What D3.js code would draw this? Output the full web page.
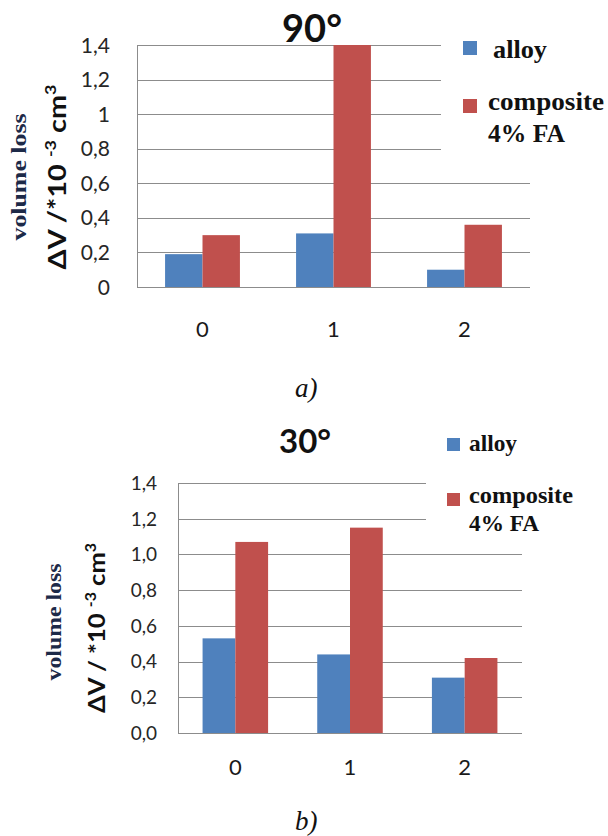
<!DOCTYPE html>
<html><head><meta charset="utf-8">
<script src="https://cdn.jsdelivr.net/npm/d3@7"></script>
<style>body{margin:0;background:#fff}svg{display:block}</style>
</head><body>
<svg id="c" width="608" height="836"></svg>
<script>
const categories = ["0", "1", "2"];
const seriesNames = ["alloy", "composite", "4% FA"];
const alloy90 = [0.19, 0.31, 0.10];
const composite90 = [0.30, 1.40, 0.36];
const alloy30 = [0.53, 0.44, 0.31];
const composite30 = [1.07, 1.15, 0.42];
const yTickValues = [0, 0.2, 0.4, 0.6, 0.8, 1.0, 1.2, 1.4];
const yTickLabels90 = ["0", "0,2", "0,4", "0,6", "0,8", "1", "1,2", "1,4"];
const yTickLabels30 = ["0,0", "0,2", "0,4", "0,6", "0,8", "1,0", "1,2", "1,4"];
const titles = ["90°", "30°"];
const captions = ["a)", "b)"];

const colors = ["#4F81BD", "#C0504D"];
const svg = d3.select("#c");

const charts = [
  {alloy: alloy90, comp: composite90, labels: yTickLabels90, title: titles[0], caption: captions[0],
   left: 137, right: 530, top: 45, bottom: 287, tickFs: 21, tickX: 110, xFs: 22, xLabelY: 337,
   titleX: 312, titleY: 42, titleFs: 38,
   legX: 463, legSq: 14, legY1: 41, legY2: 99, legTextX: 493, legTextX2: 488, legFs: 25,
   legW: [54, 116, 77], legBase: [58, 110, 142], legBg: [441, 30, 167, 125],
   vlX: 20, vlLen: 127, vlFs: 22, vlY: 177, dvX: 57, dvLen: 185, dvFs: 25, dvY: 177,
   capX: 295, capY: 397},
  {alloy: alloy30, comp: composite30, labels: yTickLabels30, title: titles[1], caption: captions[1],
   left: 178, right: 522, top: 483, bottom: 733, tickFs: 19, tickX: 157, xFs: 22, xLabelY: 775,
   titleX: 305, titleY: 453, titleFs: 33,
   legX: 447, legSq: 13, legY1: 438, legY2: 493, legTextX: 469, legTextX2: 469, legFs: 23,
   legW: [48, 104, 70], legBase: [451, 503, 531], legBg: [426, 425, 182, 110],
   vlX: 55, vlLen: 117, vlFs: 21, vlY: 622, dvX: 96, dvLen: 170, dvFs: 23, dvY: 628,
   capX: 295, capY: 830}
];

charts.forEach(ch => {
  const g = svg.append("g");
  const x = d3.scaleBand().domain(categories).range([ch.left, ch.right]).paddingInner(0.4286).paddingOuter(0.2143);
  const sub = d3.scaleBand().domain(["alloy", "comp"]).range([0, x.bandwidth()]);
  const y = d3.scaleLinear().domain([0, 1.4]).range([ch.bottom, ch.top]);

  // gridlines
  g.append("g").selectAll("line").data(yTickValues).join("line")
    .attr("x1", ch.left).attr("x2", ch.right)
    .attr("y1", d => Math.round(y(d)) + 0.5).attr("y2", d => Math.round(y(d)) + 0.5)
    .attr("stroke", "#8c8c8c").attr("stroke-width", 1);
  // left axis line
  g.append("line").attr("x1", ch.left + 0.5).attr("x2", ch.left + 0.5)
    .attr("y1", y(1.4)).attr("y2", y(0)).attr("stroke", "#8c8c8c");

  // legend background (occludes gridlines)
  g.append("rect").attr("x", ch.legBg[0]).attr("y", ch.legBg[1]).attr("width", ch.legBg[2]).attr("height", ch.legBg[3]).attr("fill", "#fff");

  // bars
  const rows = categories.map((c, i) => ({c, vals: [{k: "alloy", v: ch.alloy[i]}, {k: "comp", v: ch.comp[i]}]}));
  g.append("g").selectAll("g").data(rows).join("g")
    .attr("transform", d => `translate(${x(d.c)},0)`)
    .selectAll("rect").data(d => d.vals).join("rect")
    .attr("x", d => sub(d.k)).attr("width", sub.bandwidth())
    .attr("y", d => y(d.v)).attr("height", d => y(0) - y(d.v))
    .attr("fill", (d, i) => colors[i]);

  // y tick labels
  g.append("g").selectAll("text").data(yTickValues).join("text")
    .attr("x", ch.tickX).attr("y", d => y(d)).attr("dy", "0.36em")
    .attr("text-anchor", "end").attr("font-family", "Lato, 'Open Sans', sans-serif")
    .attr("font-size", ch.tickFs).attr("fill", "#262626")
    .text((d, i) => ch.labels[i]);

  // x labels
  g.append("g").selectAll("text").data(categories).join("text")
    .attr("x", d => x(d) + x.bandwidth() / 2).attr("y", ch.xLabelY)
    .attr("text-anchor", "middle").attr("font-family", "Lato, 'Open Sans', sans-serif")
    .attr("font-size", ch.xFs).attr("fill", "#1a1a1a")
    .text(d => d);

  // title
  g.append("text").attr("x", ch.titleX).attr("y", ch.titleY).attr("text-anchor", "middle")
    .attr("font-family", "Lato, 'Open Sans', sans-serif").attr("font-weight", "bold")
    .attr("font-size", ch.titleFs).attr("fill", "#111").text(ch.title);

  // legend
  g.append("rect").attr("x", ch.legX).attr("y", ch.legY1).attr("width", ch.legSq).attr("height", ch.legSq).attr("fill", colors[0]);
  g.append("rect").attr("x", ch.legX).attr("y", ch.legY2).attr("width", ch.legSq).attr("height", ch.legSq).attr("fill", colors[1]);
  const lt = [[ch.legTextX, seriesNames[0]], [ch.legTextX2, seriesNames[1]], [ch.legTextX2, seriesNames[2]]];
  lt.forEach((t, i) => {
    g.append("text").attr("x", t[0]).attr("y", ch.legBase[i])
      .attr("font-family", "'Liberation Serif', 'Times New Roman', serif").attr("font-weight", "bold")
      .attr("font-size", ch.legFs).attr("fill", "#111")
      .attr("textLength", ch.legW[i]).attr("lengthAdjust", "spacingAndGlyphs")
      .text(t[1]);
  });

  // y titles
  g.append("text").attr("transform", `translate(${ch.vlX + 6},${ch.vlY}) rotate(-90)`)
    .attr("text-anchor", "middle")
    .attr("font-family", "'Liberation Serif', 'Times New Roman', serif").attr("font-weight", "bold")
    .attr("font-size", ch.vlFs).attr("fill", "#1d2a48")
    .attr("textLength", ch.vlLen).attr("lengthAdjust", "spacingAndGlyphs")
    .text("volume loss");
  const dv = g.append("text").attr("transform", `translate(${ch.dvX + 9},${ch.dvY}) rotate(-90)`)
    .attr("text-anchor", "middle")
    .attr("font-family", "Lato, 'Open Sans', sans-serif").attr("font-weight", "bold")
    .attr("font-size", ch.dvFs).attr("fill", "#111")
    .attr("textLength", ch.dvLen).attr("lengthAdjust", "spacingAndGlyphs");
  dv.append("tspan").text(ch === charts[0] ? "ΔV /*10 " : "ΔV / *10 ");
  dv.append("tspan").attr("font-size", ch.dvFs * 0.62).attr("dy", -ch.dvFs * 0.4).text("-3");
  dv.append("tspan").attr("dy", ch.dvFs * 0.4).text(" cm");
  dv.append("tspan").attr("font-size", ch.dvFs * 0.62).attr("dy", -ch.dvFs * 0.4).text("3");

  // caption
  g.append("text").attr("x", ch.capX).attr("y", ch.capY)
    .attr("font-family", "'Liberation Serif', 'Times New Roman', serif").attr("font-style", "italic")
    .attr("font-size", 27).attr("fill", "#111").text(ch.caption);
});
</script>
</body></html>
